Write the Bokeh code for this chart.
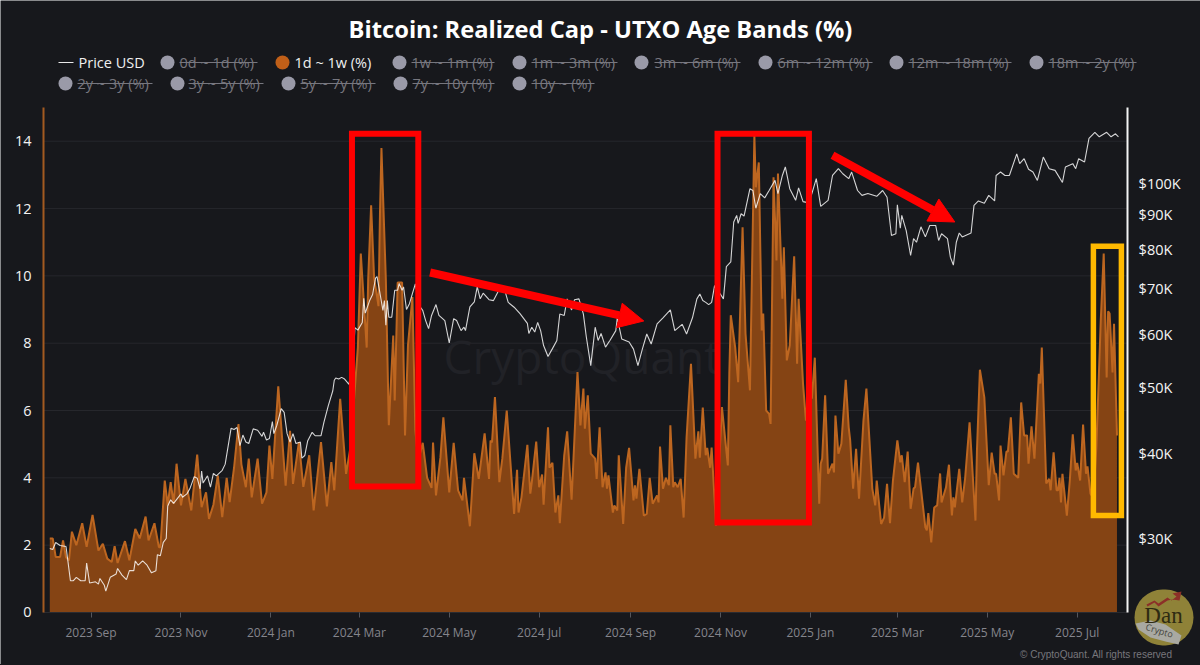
import pandas as pd
from bokeh.embed import file_html
from bokeh.models import (Arrow, BoxAnnotation, FixedTicker, Label, LogAxis, LogScale, NormalHead,
                          PolyAnnotation, Range1d)
from bokeh.plotting import figure
from bokeh.resources import INLINE

START = pd.Timestamp("2023-08-04")

# 1d ~ 1w band, turning points (days after START, %)
band_day = [0, 2, 4, 7, 9, 11, 13, 15, 18, 22, 25, 29, 33, 36, 39, 42, 44, 46, 51, 54, 58, 61, 65, 67, 71, 74, 75,
            78, 80, 82, 84, 86, 89, 92, 96, 100, 102, 103, 106, 108, 111, 114, 117, 120, 122, 125, 128, 130, 133,
            135, 137, 141, 144, 147, 149, 151, 155, 160, 163, 165, 169, 172, 176, 179, 184, 188, 191, 193, 197,
            201, 204, 209, 211, 215, 216, 218, 220, 223, 224, 225, 228, 230, 233, 234, 236, 239, 241, 243, 246,
            248, 250, 253, 256, 259, 260, 262, 265, 267, 271, 274, 277, 280, 281, 285, 288, 291, 292, 295, 298,
            299, 300, 302, 305, 307, 310, 315, 317, 318, 320, 324, 326, 327, 330, 332, 334, 335, 338, 339, 341,
            343, 345, 346, 349, 351, 354, 358, 360, 362, 363, 365, 367, 370, 371, 373, 375, 377, 378, 379, 382,
            383, 385, 386, 389, 391, 393, 396, 397, 398, 400, 403, 405, 407, 409, 412, 413, 414, 416, 418, 420,
            421, 423, 424, 426, 428, 430, 432, 435, 438, 440, 441, 443, 445, 446, 448, 449, 452, 456, 460, 461,
            462, 465, 467, 468, 470, 472, 475, 478, 479, 481, 483, 484, 486, 488, 489, 491, 493, 494, 497, 498,
            500, 502, 505, 507, 508, 511, 513, 516, 517, 519, 522, 523, 524, 526, 528, 531, 532, 533, 535, 537,
            540, 542, 543, 545, 547, 549, 552, 554, 558, 560, 561, 564, 566, 568, 570, 572, 575, 577, 578, 580,
            582, 584, 586, 587, 589, 594, 595, 596, 598, 600, 602, 604, 605, 608, 610, 612, 613, 614, 617, 619,
            621, 624, 628, 629, 631, 634, 637, 639, 641, 642, 644, 645, 647, 649, 650, 652, 654, 657, 659, 661,
            663, 664, 666, 668, 671, 672, 673, 676, 678, 679, 681, 683, 684, 685, 686, 687, 690, 692, 694, 696,
            697, 699, 701, 703, 704, 706, 708, 710, 713, 715, 717, 718, 719, 721, 722, 724]
band_pct = [2.2, 2.2, 1.65, 1.65, 2.14, 1.64, 1.55, 2.4, 2.0, 2.65, 1.95, 2.9, 1.84, 2.04, 1.6, 1.5, 1.97, 1.47,
            2.12, 1.55, 2.48, 2.2, 2.85, 2.14, 2.65, 1.94, 1.94, 3.92, 3.18, 3.87, 3.23, 4.42, 3.18, 3.97, 3.03,
            4.69, 3.63, 3.13, 3.57, 2.78, 3.2, 4.07, 2.83, 4.0, 3.28, 4.3, 5.6, 4.4, 3.72, 4.57, 3.42, 4.57, 3.23,
            3.57, 4.96, 3.97, 6.72, 3.77, 5.4, 3.82, 5.06, 3.73, 4.67, 3.03, 5.06, 3.15, 4.47, 3.63, 6.35, 4.12,
            4.91, 7.87, 10.66, 7.87, 9.9, 12.1, 9.95, 9.1, 11.85, 13.8, 9.87, 5.56, 8.23, 6.3, 9.8, 9.8, 5.26,
            7.94, 9.37, 5.41, 4.5, 5.04, 4.0, 3.7, 5.05, 3.48, 4.6, 5.8, 3.57, 5.04, 3.63, 3.33, 4.0, 2.56, 4.73,
            3.97, 4.3, 5.32, 3.97, 5.11, 5.05, 6.4, 3.87, 4.57, 6.0, 2.93, 4.24, 2.97, 3.42, 4.98, 3.53, 3.87,
            5.08, 3.72, 4.1, 3.2, 5.5, 4.3, 4.45, 2.97, 3.48, 2.65, 4.67, 5.38, 3.35, 7.14, 5.56, 6.65, 5.46, 6.45,
            4.72, 4.57, 3.97, 5.5, 3.72, 4.16, 3.68, 4.07, 2.97, 3.18, 3.03, 4.67, 2.63, 4.3, 4.89, 3.33, 3.78,
            3.38, 4.27, 2.88, 2.93, 4.0, 3.23, 3.48, 3.27, 4.93, 3.68, 4.0, 3.78, 5.56, 3.72, 3.87, 3.72, 3.97,
            2.82, 5.2, 7.39, 4.57, 5.38, 4.6, 6.09, 4.67, 4.89, 4.3, 4.9, 2.58, 6.1, 4.37, 7.09, 8.83, 7.87, 6.84,
            8.38, 11.44, 8.28, 6.6, 14.17, 12.63, 13.37, 8.38, 8.88, 6.0, 5.9, 5.6, 12.93, 10.46, 13.04, 9.32,
            10.85, 7.49, 7.93, 10.58, 7.39, 9.32, 6.8, 5.7, 6.84, 6.35, 7.57, 3.23, 4.42, 4.57, 6.45, 4.12, 4.42,
            4.16, 5.85, 4.72, 5.01, 6.91, 5.5, 5.11, 3.68, 4.86, 3.38, 5.7, 6.65, 3.68, 3.18, 3.92, 2.63, 2.82,
            3.82, 2.65, 3.92, 5.11, 4.46, 4.67, 3.87, 4.78, 3.08, 3.68, 3.72, 4.45, 2.53, 2.44, 2.95, 2.08, 3.12,
            3.18, 4.13, 3.27, 3.72, 4.39, 2.88, 3.42, 3.12, 4.27, 3.27, 4.0, 5.65, 2.73, 4.81, 7.21, 6.39, 3.78,
            4.75, 4.12, 4.12, 3.33, 4.96, 4.07, 4.78, 4.78, 5.8, 4.12, 4.0, 6.24, 5.26, 5.26, 4.42, 5.53, 4.57,
            7.09, 6.8, 7.87, 3.83, 3.97, 3.63, 4.76, 3.63, 3.63, 4.0, 3.27, 4.12, 2.88, 3.92, 5.29, 4.22, 4.44,
            3.92, 5.58, 4.12, 4.34, 3.53, 3.4, 4.9, 8.68, 10.66, 6.98, 8.95, 8.88, 7.13, 8.58, 5.26]

# price line, turning points (days after START, thousand USD)
price_day = [0, 2, 4, 7, 11, 12, 14, 16, 18, 21, 24, 25, 27, 31, 33, 34, 37, 38, 41, 45, 46, 49, 52, 54, 57, 58, 60,
             63, 66, 69, 72, 73, 75, 77, 79, 80, 82, 84, 89, 90, 93, 95, 98, 100, 102, 103, 104, 107, 109, 111, 113,
             117, 119, 123, 125, 127, 129, 131, 133, 135, 138, 141, 144, 145, 147, 149, 151, 152, 154, 157, 159,
             161, 163, 165, 167, 170, 171, 173, 175, 178, 180, 184, 186, 189, 192, 193, 194, 196, 198, 200, 203,
             206, 207, 209, 212, 213, 214, 217, 219, 221, 222, 224, 226, 227, 228, 229, 230, 232, 234, 236, 237,
             239, 240, 242, 244, 246, 248, 251, 253, 255, 257, 259, 262, 264, 268, 271, 274, 276, 279, 281, 282,
             285, 288, 290, 292, 294, 298, 301, 304, 308, 311, 315, 319, 324, 325, 327, 329, 331, 333, 335, 338,
             341, 344, 346, 349, 351, 354, 356, 359, 362, 364, 367, 370, 372, 374, 377, 380, 384, 385, 388, 393,
             396, 399, 402, 405, 408, 412, 416, 421, 424, 429, 432, 436, 439, 441, 443, 445, 447, 449, 451, 454,
             457, 459, 462, 464, 466, 467, 469, 471, 475, 477, 479, 482, 485, 488, 492, 494, 497, 499, 502, 506,
             508, 511, 515, 517, 520, 523, 528, 531, 535, 538, 542, 544, 548, 551, 555, 561, 565, 568, 571, 574,
             575, 577, 578, 581, 584, 586, 588, 591, 594, 597, 601, 603, 605, 609, 611, 613, 615, 617, 619, 625,
             627, 630, 634, 637, 641, 642, 645, 648, 651, 656, 658, 661, 664, 667, 670, 674, 678, 682, 687, 689,
             694, 696, 698, 702, 705, 709, 712, 717, 720, 723, 725]
price_k = [29.0, 28.9, 29.6, 29.3, 29.2, 28.1, 26.0, 26.0, 26.3, 26.0, 26.0, 27.6, 25.8, 25.9, 25.7, 26.2, 25.6, 25.1,
           26.3, 26.6, 27.1, 26.5, 26.1, 26.9, 26.9, 27.8, 27.4, 27.8, 27.4, 26.7, 26.9, 28.4, 28.3, 29.6, 30.0, 33.5,
           34.2, 33.8, 34.9, 34.5, 34.9, 35.5, 37.0, 36.8, 35.5, 37.7, 36.2, 37.1, 35.7, 37.4, 37.1, 37.8, 38.6, 43.6,
           43.4, 43.7, 41.1, 42.6, 41.6, 41.4, 43.5, 43.3, 42.4, 43.0, 41.9, 42.1, 44.6, 42.8, 44.0, 46.6, 46.0, 42.8,
           41.6, 42.8, 41.4, 41.6, 39.4, 39.75, 41.8, 43.0, 42.5, 42.5, 44.5, 47.1, 49.5, 51.3, 51.7, 51.5, 51.8, 51.5,
           50.6, 56.0, 61.3, 60.8, 62.4, 67.7, 64.4, 67.2, 68.6, 72.5, 72.9, 68.9, 65.0, 67.2, 61.8, 67.2, 63.5, 63.5,
           69.6, 69.6, 71.2, 69.6, 70.4, 65.2, 66.5, 68.8, 71.1, 65.9, 65.0, 62.8, 61.1, 63.9, 66.3, 63.9, 62.8, 58.2,
           63.2, 62.8, 60.7, 61.4, 60.7, 65.8, 66.9, 70.4, 67.6, 68.9, 67.4, 67.2, 69.2, 70.4, 66.8, 65.7, 64.3, 62.2,
           60.1, 61.4, 60.4, 62.4, 60.7, 57.7, 55.6, 57.1, 58.7, 64.2, 63.9, 67.6, 65.1, 67.4, 67.6, 64.2, 59.4, 53.9,
           61.4, 58.7, 60.1, 57.4, 58.7, 60.7, 63.4, 59.0, 58.4, 57.0, 53.9, 57.0, 60.0, 58.0, 62.1, 63.4, 65.1, 60.7,
           62.0, 60.0, 63.4, 67.6, 68.7, 67.2, 66.8, 66.3, 66.8, 70.7, 69.2, 67.6, 75.4, 76.6, 87.7, 89.7, 87.3, 90.2,
           89.5, 98.2, 97.6, 91.9, 96.6, 95.2, 97.6, 101.0, 96.6, 102.7, 105.7, 98.2, 94.4, 98.5, 94.0, 93.6, 96.6,
           101.6, 92.5, 94.4, 102.7, 105.1, 103.3, 101.6, 103.9, 97.6, 96.0, 96.6, 95.7, 97.6, 95.4, 83.8, 84.3, 93.0,
           85.9, 89.7, 85.2, 78.3, 82.9, 81.9, 86.3, 83.4, 86.7, 86.7, 82.4, 84.3, 82.9, 77.8, 75.8, 81.9, 84.5, 83.4,
           84.5, 92.8, 94.2, 93.5, 96.0, 94.2, 102.7, 103.9, 102.7, 102.7, 110.5, 106.9, 108.7, 104.9, 103.9, 101.0,
           109.3, 105.1, 104.5, 100.3, 105.7, 106.9, 105.1, 108.7, 107.5, 116.5, 118.9, 117.1, 118.9, 117.1, 118.3,
           117.1]

pct_ticks = [0, 2, 4, 6, 8, 10, 12, 14]
price_ticks = [30000, 40000, 50000, 60000, 70000, 80000, 90000, 100000]
price_labels = ["$30K", "$40K", "$50K", "$60K", "$70K", "$80K", "$90K", "$100K"]
month_ticks = ["2023-09-01", "2023-11-01", "2024-01-01", "2024-03-01", "2024-05-01", "2024-07-01",
               "2024-09-01", "2024-11-01", "2025-01-01", "2025-03-01", "2025-05-01", "2025-07-01"]
month_labels = ["2023 Sep", "2023 Nov", "2024 Jan", "2024 Mar", "2024 May", "2024 Jul",
                "2024 Sep", "2024 Nov", "2025 Jan", "2025 Mar", "2025 May", "2025 Jul"]

off_bands_1 = ["0d ~ 1d (%)", "1w ~ 1m (%)", "1m ~ 3m (%)", "3m ~ 6m (%)", "6m ~ 12m (%)", "12m ~ 18m (%)", "18m ~ 2y (%)"]
off_bands_2 = ["2y ~ 3y (%)", "3y ~ 5y (%)", "5y ~ 7y (%)", "7y ~ 10y (%)", "10y ~ (%)"]

# hand drawn boxes and arrows
box_left = ["2024-02-25", "2024-10-30", "2025-07-12"]
box_right = ["2024-04-10", "2024-12-31", "2025-07-31"]
box_top = [14.22, 14.22, 10.88]
box_bottom = [3.74, 2.67, 2.88]
arrow_from = [("2024-04-18", 10.10), ("2025-01-16", 13.58)]
arrow_to = [("2024-09-10", 8.66), ("2025-04-09", 11.6)]

BG = "#17181c"
TEXT_FONT = "Open Sans"
W, H = 1200, 664


def ms(d):
    return pd.Timestamp(d).timestamp() * 1000


def dates(days):
    return [START + pd.Timedelta(days=int(d)) for d in days]


def day_ms(d):
    return ms(START + pd.Timedelta(hours=d * 24))


# annotations get clipped to the frame, so the frame fills the page and the axes sit inside it
AXIS_L, AXIS_R = day_ms(-4.27), day_ms(731.2)
p = figure(x_axis_type="datetime", width=W, height=H, output_backend="svg", toolbar_location=None,
           x_range=Range1d(day_ms(-33.44), day_ms(780.66)), y_range=Range1d(-1.545, 18.18),
           background_fill_color=BG, border_fill_color=BG, min_border=0)
p.styles = {"box-shadow": "0 0 0 60px " + BG}
p.outline_line_color = None
p.grid.visible = False

p.yaxis.fixed_location = AXIS_L
p.yaxis.bounds = (0, 15)
p.yaxis.ticker = FixedTicker(ticks=pct_ticks)
p.yaxis.axis_line_color = "#a35a20"
p.yaxis.axis_line_width = 2
p.yaxis.major_tick_line_color = None
p.yaxis.minor_tick_line_color = None
p.yaxis.major_label_text_color = "#f2f2f2"
p.yaxis.major_label_text_font = TEXT_FONT
p.yaxis.major_label_text_font_size = "14.5px"
p.yaxis.major_label_standoff = 6

p.xaxis.fixed_location = 0
p.xaxis.bounds = (AXIS_L, AXIS_R)
p.xaxis.ticker = FixedTicker(ticks=[ms(d) for d in month_ticks])
p.xaxis.major_label_overrides = {ms(d): s for d, s in zip(month_ticks, month_labels)}
p.xaxis.axis_line_color = "#2a2b30"
p.xaxis.major_tick_line_color = "#55565c"
p.xaxis.major_tick_in = 0
p.xaxis.major_tick_out = 5
p.xaxis.minor_tick_line_color = None
p.xaxis.major_label_text_color = "#85858c"
p.xaxis.major_label_text_font = TEXT_FONT
p.xaxis.major_label_text_font_size = "12px"
p.xaxis.major_label_standoff = 7

p.extra_y_ranges = {"price": Range1d(19570, 185860)}
p.extra_y_scales = {"price": LogScale()}
price_axis = LogAxis(y_range_name="price", ticker=FixedTicker(ticks=price_ticks), fixed_location=AXIS_R,
                     bounds=(23340, 129300))
price_axis.major_label_overrides = dict(zip(price_ticks, price_labels))
price_axis.axis_line_color = "#f4f4f4"
price_axis.axis_line_width = 2
price_axis.major_tick_line_color = None
price_axis.minor_tick_line_color = None
price_axis.major_label_text_color = "#f4f4f4"
price_axis.major_label_text_font = TEXT_FONT
price_axis.major_label_text_font_size = "14.5px"
price_axis.major_label_standoff = 5
p.add_layout(price_axis, "right")

# grid lines and watermark under the data
p.segment([AXIS_L] * len(pct_ticks[1:]), pct_ticks[1:], [AXIS_R] * len(pct_ticks[1:]), pct_ticks[1:],
          line_color="#26272c", line_width=1, level="underlay")
p.add_layout(Label(x=443, y=355, x_units="canvas", y_units="canvas", text="CryptoQuant",
                   text_font=TEXT_FONT, text_font_size="46px", text_color="#212227", text_baseline="middle",
                   level="underlay"))

band_x = dates(band_day)
p.varea(band_x, [0] * len(band_x), band_pct, fill_color="#854414")
p.line(band_x, band_pct, line_color="#bd6620", line_width=2)
p.line(dates(price_day), [v * 1000 for v in price_k], y_range_name="price", line_color="#ffffff", line_alpha=0.82,
       line_width=1.1)

# hand drawn marks on top
for left, right, top, bottom, color, width in zip(box_left, box_right, box_top, box_bottom,
                                                  ["#ff0000", "#ff0000", "#ffb900"], [6, 6, 5.5]):
    p.add_layout(BoxAnnotation(left=ms(left), right=ms(right), top=top, bottom=bottom, fill_alpha=0,
                               line_color=color, line_width=width, line_alpha=1, line_join="miter"))
for (x0, y0), (x1, y1) in zip(arrow_from, arrow_to):
    head = NormalHead(size=25, fill_color="#ff0000", line_color="#ff0000", line_width=1)
    p.add_layout(Arrow(end=head, x_start=ms(x0), y_start=y0, x_end=ms(x1), y_end=y1,
                       line_color="#ff0000", line_width=8))


def text(x, y, s, color, size, style="normal", font=TEXT_FONT, align="left", angle=0):
    p.add_layout(Label(x=x, y=y, x_units="canvas", y_units="canvas", text=s, text_color=color,
                       text_font=font, text_font_size=size, text_font_style=style, text_align=align,
                       text_baseline="middle", angle=angle, angle_units="deg"))


def block(x0, x1, y0, y1, color, radius=0):
    p.add_layout(BoxAnnotation(left=x0, right=x1, top=y0, bottom=y1, left_units="canvas",
                               right_units="canvas", top_units="canvas", bottom_units="canvas", fill_color=color,
                               fill_alpha=1, line_color=None, border_radius=radius))


text(600, 28, "Bitcoin: Realized Cap - UTXO Age Bands (%)", "#ffffff", "23.7px", style="bold", align="center")

# legend: the chart's own one flows across two rows with the switched off series struck through
block(58, 73, 61.5, 62.5, "#e8e8e8")
text(78, 62, "Price USD", "#f0f0f0", "14.5px")
block(275, 289, 55, 69, "#c05f18", radius=7)
text(294, 62, "1d ~ 1w (%)", "#f0f0f0", "14.5px")
OFF_GREY = "#77777f"
for labels, y, dots, starts, ends in [
    (off_bands_1, 62, [160, 392, 512, 634, 758, 889, 1029], [179, 411, 531, 654, 777, 908, 1048],
     [257, 494, 617, 740, 872, 1011, 1136]),
    (off_bands_2, 83, [58, 170, 281, 393, 512], [77, 188, 300, 412, 531], [152, 263, 375, 494, 594]),
]:
    for s, dot, x0, x1 in zip(labels, dots, starts, ends):
        block(dot, dot + 14, y - 7, y + 7, "#9a9aa8", radius=7)
        text(x0, y, s, OFF_GREY, "14.5px")
        block(x0, x1, y - 0.5, y + 0.5, OFF_GREY)

text(1172, 654, "\u00a9 CryptoQuant. All rights reserved", "#77777c", "10px", font="Liberation Sans", align="right")

# logo in the corner
block(1134, 1193, 589, 645, "#8f8238", radius=28)
p.add_layout(PolyAnnotation(xs=[1135, 1150, 1165, 1181, 1178, 1165, 1150, 1138],
                            ys=[623, 620, 624, 635, 644, 641, 637, 629],
                            xs_units="canvas", ys_units="canvas", fill_color="#a9a9a2", fill_alpha=1, line_color=None))
p.add_layout(PolyAnnotation(xs=[1146, 1154, 1158, 1167, 1171, 1176, 1172, 1181, 1179, 1172, 1167, 1158, 1154, 1147],
                            ys=[604, 600, 603, 597, 600, 596, 593, 591, 600, 599, 600, 606, 602, 606],
                            xs_units="canvas", ys_units="canvas", fill_color="#8c2f28", fill_alpha=1, line_color=None))
text(1163, 615, "Dan", "#2e2b12", "23px", font="Liberation Serif", align="center")
text(1159, 630, "Crypto", "#45453f", "9px", align="center", angle=-17)

open("out.html", "w").write(file_html(p, INLINE))
